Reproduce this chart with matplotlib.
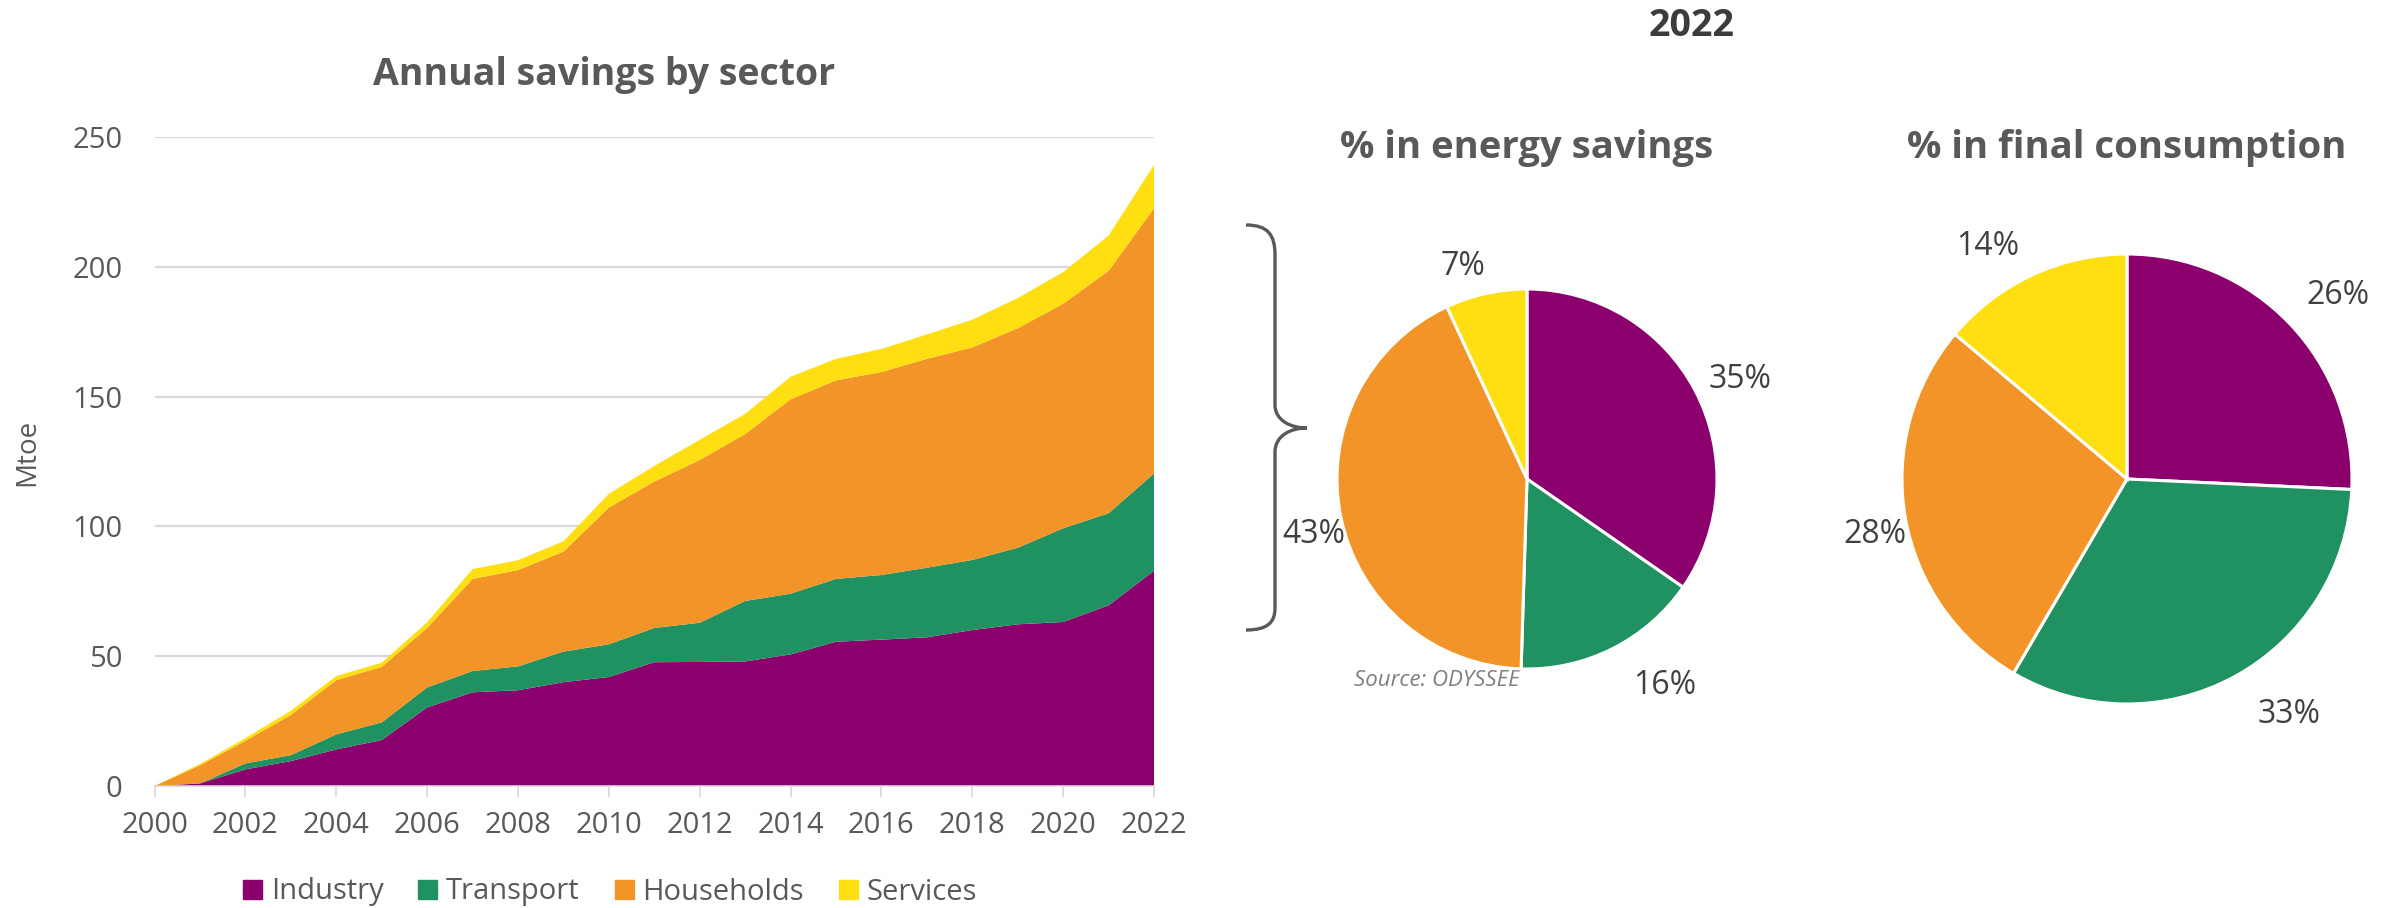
import matplotlib.pyplot as plt
import matplotlib.patches as mpatches
import matplotlib.transforms as mtransforms
from matplotlib.path import Path
import numpy as np

plt.rcParams['font.family'] = ['Open Sans', 'DejaVu Sans']

years = list(range(2000, 2023))
industry = [0, 1, 6.4, 9.6, 14.1, 17.7, 30.3, 36.1, 36.9, 40, 42, 47.7, 47.8,
            48, 50.7, 55.6, 56.4, 57.3, 60.1, 62.3, 63.2, 69.6, 82.9]
transport = [0, 0, 2.3, 2.3, 5.8, 6.8, 7.7, 8.2, 9.2, 11.8, 12.6, 13.2, 15.1,
             23.3, 23.4, 24.2, 24.9, 26.8, 27, 29.5, 36.1, 35.5, 37.5]
households = [0, 7, 8.7, 15.5, 20.9, 21.4, 22.9, 35.5, 37.1, 38.5, 52.7, 56.4,
              62.7, 64.3, 74.9, 76.5, 78.2, 80.5, 81.9, 84.6, 86.5, 93.4, 102.2]
services = [0, 0.5, 1.1, 1.6, 1.6, 1.6, 2.2, 3.8, 3.8, 4, 5.3, 6, 7.8, 7.8,
            8.7, 8.3, 8.9, 9.4, 10.7, 11.6, 12.2, 13.6, 16.7]

sectors = ['Industry', 'Transport', 'Households', 'Services']
savings_share = [35, 16, 43, 7]
consumption_share = [26, 33, 28, 14]

# label placement (Excel "best fit"): distance in radii, angle shift in degrees
savings_lbl_dist = [1.25, 1.28, 1.15, 1.20]
savings_lbl_shift = [1.3, -7.7, -1.4, -3.8]
consumption_lbl_dist = [1.26, 1.25, 1.14, 1.23]
consumption_lbl_shift = [1.8, -6.7, -1.3, -5.4]

colors = ['#8c006e', '#209160', '#f29427', '#ffdf12']
TXT = '#595959'

W, H = 2399, 908
fig = plt.figure(figsize=(W / 100, H / 100), dpi=100)


def fx(px):
    return px / W


def fy(py):
    return 1 - py / H


# --- stacked area ---
ax = fig.add_axes([fx(154.6), fy(786), fx(1154) - fx(154.6), fy(137.2) - fy(786)])
ax.stackplot(years, industry, transport, households, services,
             colors=colors, linewidth=0)
ax.set_xlim(2000, 2022)
ax.set_ylim(0, 250)
ax.set_xticks(range(2000, 2023, 2))
ax.set_yticks(range(0, 251, 50))
ax.grid(axis='y', color='#d9d9d9', linewidth=1.6, zorder=0)
ax.set_axisbelow(True)
for s in ['top', 'right', 'left']:
    ax.spines[s].set_visible(False)
ax.spines['bottom'].set_color('#d9d9d9')
ax.spines['bottom'].set_linewidth(1.2)
ax.tick_params(axis='x', colors='#d9d9d9', length=8, width=1.2, pad=10,
               labelsize=21, labelcolor=TXT)
ax.tick_params(axis='y', length=0, pad=23, labelsize=21, labelcolor=TXT)

fig.text(fx(604), fy(75), 'Annual savings by sector', ha='center', va='center',
         fontsize=27, fontweight='bold', color=TXT)
fig.text(fx(27), fy(452), 'Mtoe', ha='center', va='center', rotation=90,
         fontsize=20, color=TXT)

handles = [mpatches.Patch(color=c, label=l) for c, l in zip(colors, sectors)]
fig.legend(handles=handles, loc='center', bbox_to_anchor=(fx(610), fy(892)),
           ncol=4, frameon=False, fontsize=21, labelcolor=TXT,
           handlelength=0.65, handleheight=0.65, handletextpad=0.3,
           columnspacing=1.2)


# --- pies ---
def draw_pie(cx, cy, r, values, dists, shifts):
    pax = fig.add_axes([fx(cx - r), fy(cy + r), fx(2 * r), fy(cy - r) - fy(cy + r)])
    wedges, _ = pax.pie(values, colors=colors, startangle=90, counterclock=False,
                        wedgeprops=dict(edgecolor='white', linewidth=2.2))
    nudge = pax.transData + mtransforms.ScaledTranslation(0, -4.3 / 72,
                                                          fig.dpi_scale_trans)
    for w, v, d, sh in zip(wedges, values, dists, shifts):
        mid = np.deg2rad((w.theta1 + w.theta2) / 2 - sh)
        pax.text(d * np.cos(mid), d * np.sin(mid), f'{v}%', ha='center',
                 va='center', fontsize=23, color='#404040', transform=nudge)
    pax.set_xlim(-1, 1)
    pax.set_ylim(-1, 1)
    pax.set_aspect('equal')
    return pax


fig.text(fx(1437), fy(680), 'Source: ODYSSEE', ha='center', va='center',
         fontsize=16, style='italic', color='#7f7f7f', zorder=-1)

draw_pie(1527, 479, 190, savings_share, savings_lbl_dist, savings_lbl_shift)
draw_pie(2127, 479, 225, consumption_share, consumption_lbl_dist,
         consumption_lbl_shift)

fig.text(fx(1692), fy(26), '2022', ha='center', va='center',
         fontsize=27, fontweight='bold', color='#3c3c3c')
fig.text(fx(1527), fy(148), '% in energy savings', ha='center', va='center',
         fontsize=27.5, fontweight='bold', color=TXT)
fig.text(fx(2127), fy(148), '% in final consumption', ha='center', va='center',
         fontsize=27.5, fontweight='bold', color=TXT)

# --- curly brace ---
pts = [(1246, 225), (1268, 225), (1275, 235), (1275, 255),
       (1275, 405),
       (1275, 420), (1290, 428), (1307, 428),
       (1290, 428), (1275, 436), (1275, 452),
       (1275, 608),
       (1275, 622), (1268, 630), (1246, 630)]
codes = [Path.MOVETO, Path.CURVE4, Path.CURVE4, Path.CURVE4,
         Path.LINETO,
         Path.CURVE4, Path.CURVE4, Path.CURVE4,
         Path.CURVE4, Path.CURVE4, Path.CURVE4,
         Path.LINETO,
         Path.CURVE4, Path.CURVE4, Path.CURVE4]
brace = Path([(fx(x), fy(y)) for x, y in pts], codes)
fig.patches.append(mpatches.PathPatch(brace, transform=fig.transFigure,
                                      fill=False, edgecolor=TXT, linewidth=2.4))

fig.savefig('out.png', dpi=100, facecolor='white')
